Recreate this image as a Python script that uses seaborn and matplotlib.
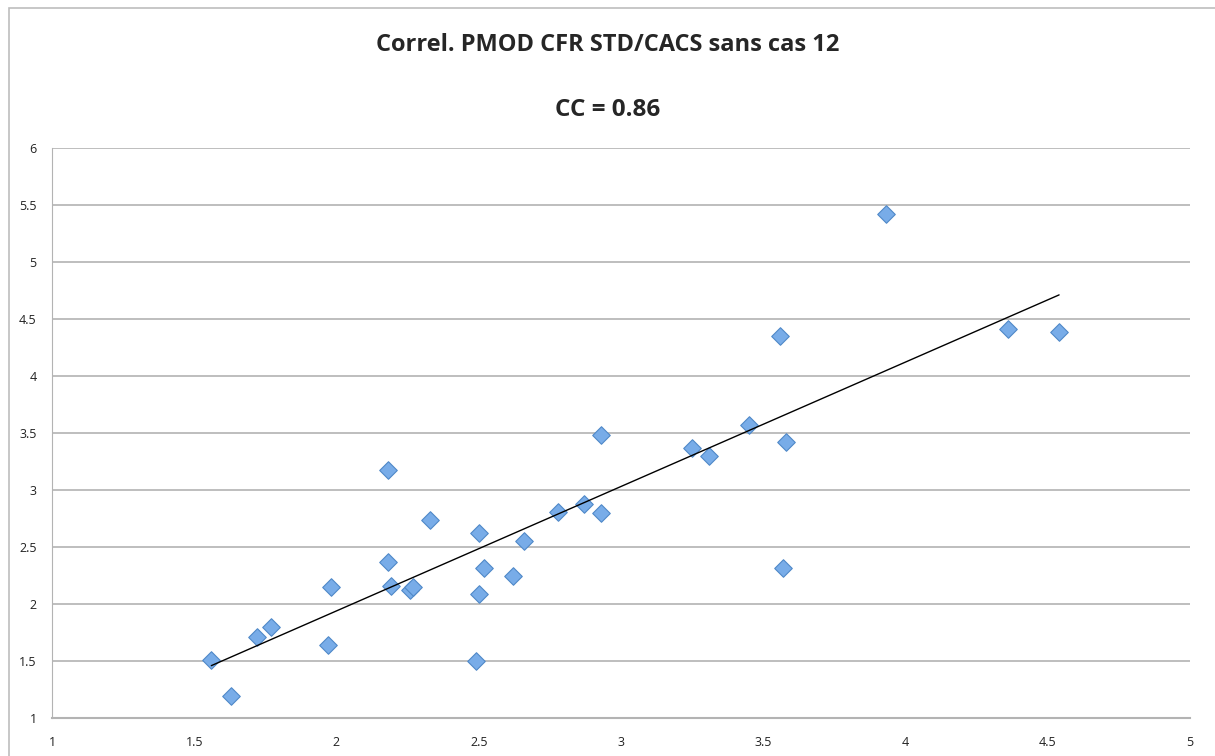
import numpy as np
import pandas as pd
import matplotlib
matplotlib.use("Agg")
import matplotlib.pyplot as plt
import seaborn as sns
from matplotlib.patches import Rectangle

# Values
cfr_std = [1.56, 1.63, 1.72, 1.77, 1.97, 1.98, 2.18, 2.18, 2.19, 2.26, 2.27,
           2.33, 2.50, 2.49, 2.50, 2.52, 2.62, 2.66, 2.78, 2.87, 2.93, 2.93,
           3.25, 3.31, 3.45, 3.56, 3.58, 3.57, 3.93, 4.36, 4.54]
cacs = [1.51, 1.19, 1.71, 1.80, 1.64, 2.15, 3.18, 2.37, 2.16, 2.12, 2.15,
        2.74, 2.09, 1.50, 2.62, 2.32, 2.25, 2.55, 2.81, 2.88, 3.48, 2.80,
        3.37, 3.30, 3.57, 4.35, 3.42, 2.32, 5.42, 4.41, 4.39]
title_lines = ["Correl. PMOD CFR STD/CACS sans cas 12", "CC = 0.86"]

data = pd.DataFrame({"x": cfr_std, "y": cacs})

sns.set_style("white")
plt.rcParams["font.family"] = ["Open Sans", "DejaVu Sans"]

fig = plt.figure(figsize=(12.15, 7.56), dpi=100)
ax = fig.add_axes([0.0428, 0.0503, 0.9366, 0.7537])

# chart area border
fig.patches.append(Rectangle((0.007, -0.01), 1.1, 1.0, transform=fig.transFigure,
                             fill=False, edgecolor="#bdbdbd", linewidth=1.2))

sns.scatterplot(data=data, x="x", y="y", marker="D", s=80, color="#78ace8",
                edgecolor="#5089c8", linewidth=0.8, ax=ax, zorder=3)

# linear trend line across the x range
slope, intercept = np.polyfit(data["x"], data["y"], 1)
xs = np.array([data["x"].min(), data["x"].max()])
ax.plot(xs, slope * xs + intercept, color="black", linewidth=1.0, zorder=4)

ax.set_xlim(1, 5)
ax.set_ylim(1, 6)
ax.set_xticks(np.arange(1, 5.01, 0.5))
ax.set_yticks(np.arange(1, 6.01, 0.5))
ax.set_xticklabels(["1", "1.5", "2", "2.5", "3", "3.5", "4", "4.5", "5"])
ax.set_yticklabels(["1", "1.5", "2", "2.5", "3", "3.5", "4", "4.5", "5", "5.5", "6"])
ax.yaxis.grid(True, color="#b3b3b3", linewidth=1.2)
ax.xaxis.grid(False)
ax.set_xlabel("")
ax.set_ylabel("")

for side in ["top", "right"]:
    ax.spines[side].set_visible(False)
ax.spines["left"].set_color("#b3b3b3")
ax.spines["bottom"].set_color("#b3b3b3")
ax.spines["bottom"].set_linewidth(1.5)
ax.tick_params(axis="both", direction="out", length=5, width=1, color="#b3b3b3",
               labelsize=9, labelcolor="#222222", pad=6)
ax.tick_params(axis="x", pad=8)

fig.text(0.5, 0.94, title_lines[0], ha="center", va="center", fontsize=17, fontweight="bold")
fig.text(0.5, 0.855, title_lines[1], ha="center", va="center", fontsize=17.5, fontweight="bold")

fig.savefig("out.png", dpi=100)
